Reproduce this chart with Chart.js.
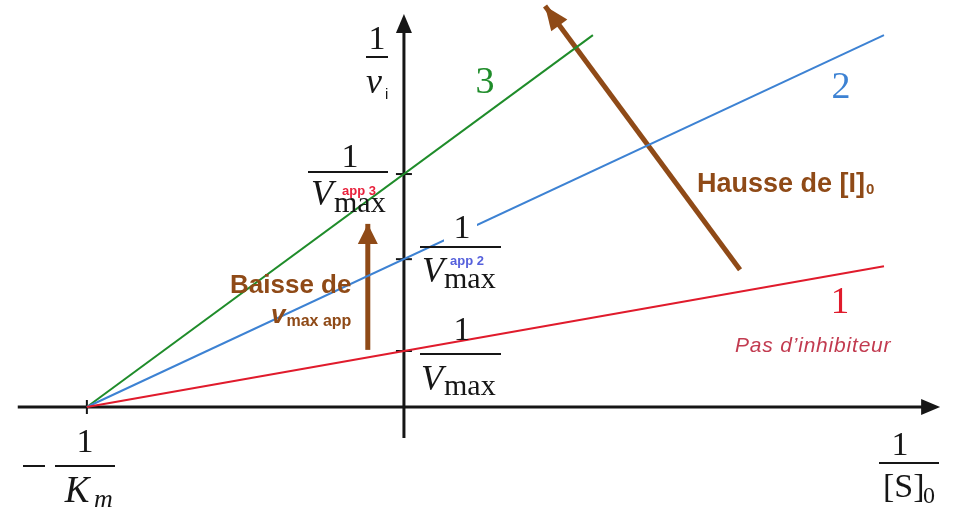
<!DOCTYPE html>
<html>
<head>
<meta charset="utf-8">
<script src="https://cdn.jsdelivr.net/npm/chart.js@4.4.1/dist/chart.umd.min.js"></script>
<style>
  html, body { margin: 0; padding: 0; background: #ffffff; }
  #wrap { width: 955px; height: 512px; }
</style>
</head>
<body>
<div id="wrap"><canvas id="lb" width="955" height="512"></canvas></div>
<script>
// Lineweaver–Burk plot, non-competitive inhibition.
// Units: x = 1/[S]0 with 1/Km = 1, y = 1/vi with 1/Vmax = 1.

// 1/[S]0 end points of each line (all start at -1/Km)
const xLine12 = [-1, 1.514];
const xLine3 = [-1, 0.596];
// 1/vi at those end points
const yLine1 = [0, 2.514];   // no inhibitor
const yLine2 = [0, 6.64];    // [I]0 medium
const yLine3 = [0, 6.64];    // [I]0 high
// y-axis intercepts 1/Vmax, 1/Vmax app2, 1/Vmax app3
const yIntercepts = [1, 2.64, 4.16];
// x-axis intercept -1/Km
const xIntercept = [-1];

// annotation arrows (tail, tip)
const arrowRiseX = [1.06, 0.445];
const arrowRiseY = [2.45, 7.16];
const arrowVmaxX = [-0.114, -0.114];
const arrowVmaxY = [1.02, 3.27];

// axis extents
const xAxisRange = [-1.218, 1.691];
const yAxisRange = [-0.554, 7.02];

const GREEN = '#1f8c2a';
const BLUE = '#3d82d3';
const RED = '#e01b2c';
const BROWN = '#8f4a17';
const INK = '#161616';

const pts = (xs, ys) => xs.map((x, i) => ({ x: x, y: ys[i] }));

const serif = '"Liberation Serif", "DejaVu Serif", serif';
const sans = '"Liberation Sans", Arial, sans-serif';

// draws a string and returns its right edge
function text(ctx, s, x, y, font, color, align, spacing) {
  ctx.font = font;
  ctx.fillStyle = color;
  ctx.textAlign = align || 'center';
  ctx.textBaseline = 'alphabetic';
  ctx.letterSpacing = spacing || '0px';
  ctx.fillText(s, x, y);
  const w = ctx.measureText(s).width;
  ctx.letterSpacing = '0px';
  if (ctx.textAlign === 'left') return x + w;
  if (ctx.textAlign === 'right') return x;
  return x + w / 2;
}
function bar(ctx, x1, x2, y) {
  ctx.fillStyle = INK;
  ctx.fillRect(x1, y - 1, x2 - x1, 2);
}
function head(ctx, x0, y0, x1, y1, len, half, color) {
  const a = Math.atan2(y1 - y0, x1 - x0);
  const c = Math.cos(a), s = Math.sin(a);
  const bx = x1 - c * len, by = y1 - s * len;
  ctx.beginPath();
  ctx.moveTo(x1, y1);
  ctx.lineTo(bx - s * half, by + c * half);
  ctx.lineTo(bx + s * half, by - c * half);
  ctx.closePath();
  ctx.fillStyle = color;
  ctx.fill();
}

const decor = {
  id: 'decor',
  beforeDatasetsDraw(chart) {
    const ctx = chart.ctx;
    const sx = chart.scales.x, sy = chart.scales.y;
    const ox = sx.getPixelForValue(0), oy = sy.getPixelForValue(0);
    ctx.save();
    ctx.strokeStyle = INK;
    ctx.lineWidth = 3;
    // x axis
    const xa = sx.getPixelForValue(xAxisRange[0]);
    const xb = sx.getPixelForValue(xAxisRange[1]);
    ctx.beginPath(); ctx.moveTo(xa, oy); ctx.lineTo(xb - 14, oy); ctx.stroke();
    head(ctx, xa, oy, xb, oy, 19, 8, INK);
    // y axis
    const ya = sy.getPixelForValue(yAxisRange[0]);
    const yb = sy.getPixelForValue(yAxisRange[1]);
    ctx.beginPath(); ctx.moveTo(ox, ya); ctx.lineTo(ox, yb + 14); ctx.stroke();
    head(ctx, ox, ya, ox, yb, 19, 8, INK);
    // ticks
    ctx.lineWidth = 2;
    yIntercepts.forEach(v => {
      const p = sy.getPixelForValue(v);
      ctx.beginPath(); ctx.moveTo(ox - 8, p); ctx.lineTo(ox + 8, p); ctx.stroke();
    });
    xIntercept.forEach(v => {
      const p = sx.getPixelForValue(v);
      ctx.beginPath(); ctx.moveTo(p, oy - 7); ctx.lineTo(p, oy + 7); ctx.stroke();
    });
    ctx.restore();
  },
  afterDatasetsDraw(chart) {
    const ctx = chart.ctx;
    const sx = chart.scales.x, sy = chart.scales.y;
    ctx.save();
    // arrow heads
    head(ctx, sx.getPixelForValue(arrowRiseX[0]), sy.getPixelForValue(arrowRiseY[0]),
         sx.getPixelForValue(arrowRiseX[1]), sy.getPixelForValue(arrowRiseY[1]), 24, 10, BROWN);
    head(ctx, sx.getPixelForValue(arrowVmaxX[0]), sy.getPixelForValue(arrowVmaxY[0]),
         sx.getPixelForValue(arrowVmaxX[1]), sy.getPixelForValue(arrowVmaxY[1]), 20, 10, BROWN);

    // white backing behind the numerator of 1/Vmax app2
    ctx.fillStyle = '#ffffff';
    ctx.fillRect(444, 211, 33, 31);

    // 1/vi
    text(ctx, '1', 377, 49, '34px ' + serif, INK);
    bar(ctx, 366, 388, 57);
    text(ctx, 'v', 374, 93, 'italic 36px ' + serif, INK);
    text(ctx, 'i', 385, 99, '15px ' + sans, INK, 'left');

    // line numbers
    text(ctx, '3', 485, 93, '38px ' + serif, GREEN);
    text(ctx, '2', 841, 98, '38px ' + serif, BLUE);
    text(ctx, '1', 840, 313, '37px ' + serif, RED);

    // 1/Vmax app3
    text(ctx, '1', 350, 167, '34px ' + serif, INK);
    bar(ctx, 308, 388, 172);
    text(ctx, 'V', 322, 205, 'italic 36px ' + serif, INK);
    text(ctx, 'max', 334, 212, '30px ' + serif, INK, 'left');
    text(ctx, 'app 3', 342, 195, 'bold 13px ' + sans, '#e8213c', 'left');

    // 1/Vmax app2
    text(ctx, '1', 462, 238, '34px ' + serif, INK);
    bar(ctx, 420, 501, 247);
    text(ctx, 'V', 433, 282, 'italic 36px ' + serif, INK);
    text(ctx, 'max', 444, 288, '30px ' + serif, INK, 'left');
    text(ctx, 'app 2', 450, 265, 'bold 13px ' + sans, '#5560dc', 'left');

    // 1/Vmax
    text(ctx, '1', 462, 340, '34px ' + serif, INK);
    bar(ctx, 420, 501, 354);
    text(ctx, 'V', 432, 390, 'italic 36px ' + serif, INK);
    text(ctx, 'max', 444, 395, '30px ' + serif, INK, 'left');

    // -1/Km
    bar(ctx, 23, 45, 466);
    text(ctx, '1', 85, 452, '34px ' + serif, INK);
    bar(ctx, 55, 115, 466);
    text(ctx, 'K', 77, 502, 'italic 37px ' + serif, INK);
    text(ctx, 'm', 94, 507, 'italic 26px ' + serif, INK, 'left');

    // 1/[S]0
    text(ctx, '1', 900, 455, '34px ' + serif, INK);
    bar(ctx, 879, 939, 463);
    text(ctx, '[S]', 883, 497, '34px ' + serif, INK, 'left');
    text(ctx, '0', 923, 503, '24px ' + serif, INK, 'left');

    // annotations
    text(ctx, 'Pas d\u2019inhibiteur', 735, 352, 'italic 21px ' + sans, '#c23b50', 'left', '0.8px');
    const hEnd = text(ctx, 'Hausse de [I]', 697, 192, 'bold 27px ' + sans, BROWN, 'left');
    text(ctx, '0', hEnd + 1, 194, 'bold 15px ' + sans, BROWN, 'left');
    text(ctx, 'Baisse de', 230, 293, 'bold 26px ' + sans, BROWN, 'left');
    const vEnd = text(ctx, 'v', 271, 323, 'bold italic 26px ' + sans, BROWN, 'left');
    text(ctx, 'max app', vEnd + 1, 326, 'bold 16px ' + sans, BROWN, 'left');
    ctx.restore();
  }
};

const lineDs = (data, color, width) => ({
  data: data, showLine: true, borderColor: color, backgroundColor: color,
  borderWidth: width, pointRadius: 0, pointHoverRadius: 0, fill: false, tension: 0
});

new Chart(document.getElementById('lb'), {
  type: 'scatter',
  data: {
    datasets: [
      lineDs(pts(xLine12, yLine1), RED, 2),
      lineDs(pts(xLine12, yLine2), BLUE, 2),
      lineDs(pts(xLine3, yLine3), GREEN, 2),
      lineDs(pts(arrowRiseX, arrowRiseY), BROWN, 5),
      lineDs(pts(arrowVmaxX, arrowVmaxY), BROWN, 5)
    ]
  },
  options: {
    responsive: false,
    animation: false,
    events: [],
    layout: { padding: 0 },
    plugins: { legend: { display: false }, tooltip: { enabled: false } },
    scales: {
      x: { type: 'linear', display: false, min: -1.274, max: 1.738 },
      y: { type: 'linear', display: false, min: -1.875, max: 7.268 }
    }
  },
  plugins: [decor]
});
</script>
</body>
</html>
